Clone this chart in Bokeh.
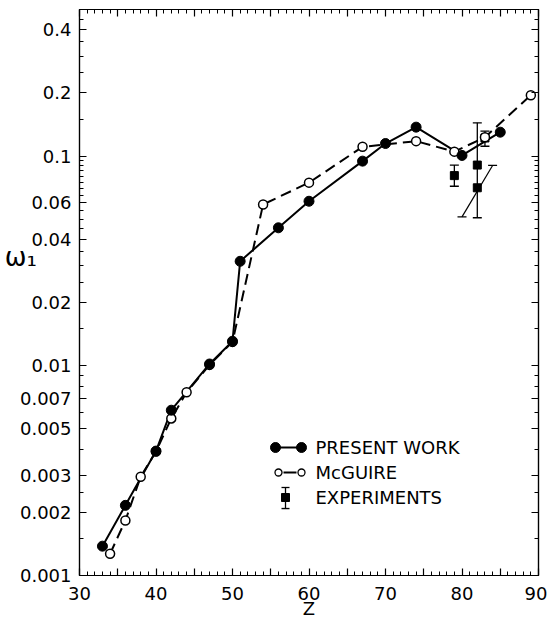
import math
from bokeh.plotting import figure
from bokeh.models import FixedTicker, LogAxis, LinearAxis, PrintfTickFormatter
from bokeh.embed import file_html
from bokeh.resources import INLINE
from bokeh.core.properties import value

# ---------------- data ----------------
present_z = [33, 36, 40, 42, 47, 50, 51, 56, 60, 67, 70, 74, 80, 85]
present_w = [0.00138, 0.00216, 0.00392, 0.00614, 0.0102, 0.0131, 0.0315, 0.0455,
             0.0609, 0.0946, 0.1148, 0.1374, 0.1007, 0.130]

mcguire_z = [34, 36, 38, 40, 42, 44, 47, 50, 54, 60, 67, 74, 79, 83, 89]
mcguire_w = [0.00127, 0.00183, 0.00296, 0.0039, 0.00561, 0.00748, 0.0101, 0.0130,
             0.0588, 0.0747, 0.1107, 0.1178, 0.105, 0.123, 0.195]

exp_z = [79, 82, 82, 83]
exp_w = [0.0807, 0.0906, 0.0706, 0.122]
bar_z = [79, 82, 83]
bar_lo = [0.0718, 0.0508, 0.1114]
bar_hi = [0.0906, 0.144, 0.1315]
slant_z = [80, 84]
slant_w = [0.0513, 0.0902]

x_major = [30, 35, 40, 45, 50, 55, 60, 65, 70, 75, 80, 85, 90]
x_labels = {30: "30", 40: "40", 50: "50", 60: "60", 70: "70", 80: "80", 90: "90"}
y_major = [0.001, 0.002, 0.003, 0.005, 0.007, 0.01, 0.02, 0.04, 0.06, 0.1, 0.2, 0.4]
y_minor = [0.0015, 0.0025, 0.004, 0.006, 0.008, 0.009, 0.015, 0.025, 0.03, 0.035,
           0.045, 0.05, 0.055, 0.065, 0.07, 0.075, 0.08, 0.085, 0.09, 0.095,
           0.15, 0.25, 0.3, 0.35, 0.45]

legend_labels = ["PRESENT  WORK", "McGUIRE", "EXPERIMENTS"]

# ---------------- layout ----------------
W, H = 547, 623
BL, BR, BT, BB = 79, 9, 9, 48
X0, X1 = 30, 90
Y0, Y1 = 0.001, 0.5
FW, FH = W - BL - BR, H - BT - BB
FONT = "DejaVu Sans"

def zx(px):  # canvas pixel -> data x
    return X0 + (px - BL) / FW * (X1 - X0)

def wy(py):  # canvas pixel -> data y (log)
    ly0, ly1 = math.log10(Y0), math.log10(Y1)
    return 10 ** (ly0 + (BT + FH - py) / FH * (ly1 - ly0))

p = figure(width=W, height=H, x_range=(X0, X1), y_range=(Y0, Y1),
           y_axis_type="log", output_backend="svg", toolbar_location=None,
           min_border_left=BL, min_border_right=BR, min_border_top=BT,
           min_border_bottom=BB)
p.grid.visible = False
p.outline_line_color = "black"
p.outline_line_width = 1.2
p.background_fill_color = "white"
p.border_fill_color = "white"

xt = FixedTicker(ticks=x_major, minor_ticks=list(range(30, 91)))
yt = FixedTicker(ticks=y_major, minor_ticks=y_minor)

def style(ax, labels=True):
    ax.axis_line_color = "black"
    ax.axis_line_width = 1.2
    ax.major_tick_in = 7
    ax.major_tick_out = 0
    ax.minor_tick_in = 4
    ax.minor_tick_out = 0
    ax.major_tick_line_color = "black"
    ax.minor_tick_line_color = "black"
    ax.major_tick_line_width = 1.2
    ax.minor_tick_line_width = 1.0
    ax.major_label_text_font = FONT
    if labels:
        ax.major_label_text_color = "black"
        ax.major_label_text_font_size = "18px"
    else:
        ax.major_label_text_color = None
        ax.major_label_text_font_size = "1px"
        ax.major_label_standoff = 0

p.xaxis.ticker = xt
p.xaxis.major_label_overrides = {k: x_labels.get(k, "") for k in x_major}
p.xaxis.major_label_standoff = 11
style(p.xaxis[0])
p.xaxis.axis_label = "Z"
p.xaxis.axis_label_text_font = FONT
p.xaxis.axis_label_text_font_style = "normal"
p.xaxis.axis_label_text_font_size = "18px"
p.xaxis.axis_label_text_color = "black"
p.xaxis.axis_label_standoff = -5

p.yaxis.ticker = yt
p.yaxis.formatter = PrintfTickFormatter(format="%g")
p.yaxis.major_label_standoff = 8
style(p.yaxis[0])
p.yaxis.axis_label = "ω₁\n\n"
p.yaxis.axis_label_orientation = "horizontal"
p.yaxis.axis_label_text_font = FONT
p.yaxis.axis_label_text_font_style = "normal"
p.yaxis.axis_label_text_font_size = "26px"
p.yaxis.axis_label_text_color = "black"
p.yaxis.axis_label_standoff = -20

top = LinearAxis(ticker=xt)
style(top, labels=False)
p.add_layout(top, "above")
right = LogAxis(ticker=yt)
style(right, labels=False)
p.add_layout(right, "right")

# ---------------- data marks ----------------
p.line(mcguire_z, mcguire_w, line_color="black", line_width=2, line_dash="11 6")
p.line(present_z, present_w, line_color="black", line_width=2)

p.segment(x0=bar_z, y0=bar_lo, x1=bar_z, y1=bar_hi, line_color="black", line_width=1.3)
p.scatter(bar_z, bar_lo, marker="dash", size=9, line_color="black", line_width=1.3)
p.scatter(bar_z, bar_hi, marker="dash", size=9, line_color="black", line_width=1.3)
p.line(slant_z, slant_w, line_color="black", line_width=1.2)
p.scatter(slant_z, slant_w, marker="dash", size=9, line_color="black", line_width=1.2)
p.scatter(exp_z, exp_w, marker="square", size=8, fill_color="black", line_color="black")

p.scatter(mcguire_z, mcguire_w, marker="circle", size=9, fill_color="white",
          line_color="black", line_width=1.5)
p.scatter(present_z, present_w, marker="circle", size=10, fill_color="black",
          line_color="black")

# ---------------- legend ----------------
r1, r2, r3 = wy(447), wy(472), wy(497)
p.line([zx(275), zx(301)], [r1, r1], line_color="black", line_width=2)
p.scatter([zx(275), zx(301)], [r1, r1], marker="circle", size=10, fill_color="black",
          line_color="black")
p.line([zx(283), zx(296)], [r2, r2], line_color="black", line_width=2)
p.scatter([zx(278), zx(301)], [r2, r2], marker="circle", size=7, fill_color="white",
          line_color="black", line_width=1.3)
p.segment(x0=[zx(285)], y0=[wy(487)], x1=[zx(285)], y1=[wy(508)], line_color="black",
          line_width=1.3)
p.scatter([zx(285)] * 2, [wy(487), wy(508)], marker="dash", size=8, line_color="black",
          line_width=1.3)
p.scatter([zx(285)], [r3], marker="square", size=8, fill_color="black", line_color="black")
p.text(x=[zx(315)] * 3, y=[r1, r2, r3], text=legend_labels, text_font=value(FONT),
       text_font_size="18px", text_baseline="middle", text_align="left",
       text_color="black")

open("out.html", "w").write(file_html(p, INLINE))
